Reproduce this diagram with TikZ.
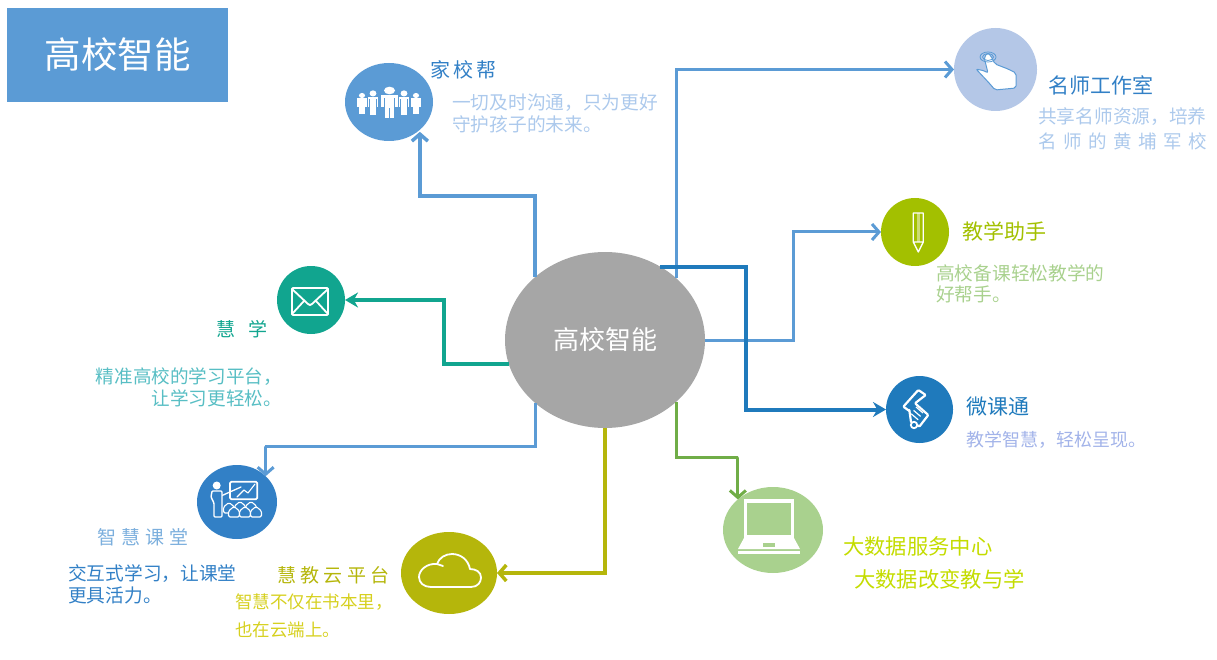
\documentclass[tikz,border=0pt]{standalone}
\usepackage{fontspec}
\setmainfont{Noto Sans CJK SC}
\usetikzlibrary{shapes.geometric, arrows.meta}
\definecolor{titleBlue}{RGB}{91, 155, 213}
\definecolor{hubGrey}{RGB}{166, 166, 166}
\definecolor{handDisc}{RGB}{180, 199, 231}
\definecolor{descBlue}{RGB}{172, 201, 236}
\definecolor{limeDisc}{RGB}{163, 192, 0}
\definecolor{weiBlue}{RGB}{31, 122, 188}
\definecolor{dataDisc}{RGB}{169, 209, 142}
\definecolor{dataEdge}{RGB}{112, 173, 71}
\definecolor{dataText}{RGB}{196, 220, 0}
\definecolor{cloudOlive}{RGB}{181, 182, 11}
\definecolor{cloudText}{RGB}{214, 208, 32}
\definecolor{ketangBlue}{RGB}{50, 128, 198}
\definecolor{huixueTeal}{RGB}{17, 165, 143}
\definecolor{huixueText}{RGB}{88, 190, 196}
\newcommand{\txtfont}[2]{\fontsize{#1}{#1}\selectfont\addfontfeature{LetterSpace=#2}}
\tikzset{
    disc_node/.style n args={3}{
        ellipse,
        fill=#1,
        inner sep=0pt,
        outer sep=0pt,
        minimum width=#2pt,
        minimum height=#3pt
    },
    head_text/.style={
        anchor=west,
        inner sep=0pt,
        align=left,
        text=#1
    },
    desc_text/.style={
        head_text=#1,
        font=\fontsize{18.7}{21.5}\selectfont
    },
    link_edge/.style={
        -{Straight Barb[length=7pt,width=16pt]},
        draw=titleBlue,
        line width=3.5pt
    },
    heavy_edge/.style={
        -{Stealth[length=13pt,width=15pt]},
        line width=4pt
    },
    icon_line/.style={
        draw=white,
        line width=1.8pt,
        line join=round,
        line cap=round
    },
    person_pic/.pic={
        \fill[white] (0,-4.5) ellipse (5.5pt and 3.8pt);
        \fill[white] (-8.5,0) rectangle (8.5,3);
        \fill[white] (-8.5,0) rectangle (-5.7,12);
        \fill[white] (5.7,0) rectangle (8.5,12);
        \fill[white] (-4.9,0) rectangle (4.9,13);
        \fill[white] (-4.9,13) rectangle (-0.7,23);
        \fill[white] (0.7,13) rectangle (4.9,23);
    }
}
\begin{document}
\begin{tikzpicture}[x=1pt, y=-1pt]
    \useasboundingbox (0,0) rectangle (1217,660);

    \node[rectangle, fill=titleBlue, text=white, minimum width=221pt, minimum height=94pt, font=\fontsize{36.5}{40}\selectfont] (title) at (117.5,55) {高校智能};

    \node[disc_node={hubGrey}{200}{176}, text=white, font=\fontsize{26}{30}\selectfont] (hub) at (605,340) {高校智能};
    \node[disc_node={titleBlue}{88}{78}] (jia) at (389,102) {};
    \node[disc_node={handDisc}{83}{83}] (ming) at (995.5,69.5) {};
    \node[disc_node={limeDisc}{68}{68}] (zhushou) at (915,232) {};
    \node[disc_node={weiBlue}{67}{67}] (wei) at (919.5,409.5) {};
    \node[disc_node={dataDisc}{100}{86}] (data) at (773,530) {};
    \node[disc_node={cloudOlive}{96}{82}] (cloud) at (449,573) {};
    \node[disc_node={ketangBlue}{80}{74}] (ketang) at (237,502) {};
    \node[disc_node={huixueTeal}{68}{68}] (huixue) at (311,300) {};

    \coordinate (jiaTurn) at (420,196);
    \coordinate (zhushouTurn) at (793,290);
    \coordinate (weiTurn) at (746,340);
    \coordinate (dataTurn) at (738,457);
    \coordinate (ketangTurn) at (265,446);
    \coordinate (huixueTurn) at (444,330);

    % links from the hub
    \draw[link_edge, shorten >=2pt] (hub.138) |- (jiaTurn) -| (jia.-42);
    \draw[link_edge, line width=3pt] (hub.41) |- (ming.west);
    \draw[link_edge, line width=3pt] (hub.east) -| (zhushouTurn) |- (zhushou.west);
    \draw[heavy_edge, draw=weiBlue] (hub.53) -| (weiTurn) |- (wei.west);
    \draw[link_edge, draw=dataEdge, line width=3pt] (hub.-41) |- (dataTurn) -| (data.139);
    \draw[link_edge, draw=cloudOlive] (hub.south) |- (cloud.east);
    \draw[link_edge, line width=3pt] (hub.-138) |- (ketangTurn) -| (ketang.42);
    \draw[heavy_edge, draw=huixueTeal] (hub.194) -| (huixueTurn) |- (huixue.east);

    % labels
    \node[head_text=ketangBlue, font=\txtfont{20}{17}] (jiaHead) at (430,70) {家校帮};
    \node[desc_text=descBlue] (jiaDesc) at (452,113.5) {一切及时沟通，只为更好\\守护孩子的未来。};
    \node[head_text=ketangBlue, font=\txtfont{21}{0}] (mingHead) at (1048,85) {名师工作室};
    \node[head_text=descBlue, font=\txtfont{18.7}{0}] (mingDescA) at (1038,117) {共享名师资源，培养};
    \node[head_text=descBlue, font=\txtfont{18.5}{35}] (mingDescB) at (1038,141) {名师的黄埔军校};
    \node[head_text=limeDisc, font=\txtfont{21}{0}] (zhushouHead) at (962,231) {教学助手};
    \node[desc_text=dataDisc] (zhushouDesc) at (936,284) {高校备课轻松教学的\\好帮手。};
    \node[head_text=weiBlue, font=\txtfont{21}{0}] (weiHead) at (966,407) {微课通};
    \node[head_text=handDisc!90!blue, font=\txtfont{18}{0}] (weiDesc) at (966,440) {教学智慧，轻松呈现。};
    \node[head_text=dataText, font=\txtfont{21.3}{0}] (dataHead) at (843,546) {大数据服务中心};
    \node[head_text=dataText, font=\txtfont{21.3}{0}] (dataDesc) at (854,579) {大数据改变教与学};
    \node[head_text=cloudOlive, font=\txtfont{19}{23}] (cloudHead) at (277,575) {慧教云平台};
    \node[head_text=cloudText, font=\fontsize{17.5}{28}\selectfont] (cloudDesc) at (235,616) {智慧不仅在书本里，\\也在云端上。};
    \node[head_text=titleBlue!80, font=\txtfont{19}{26}] (ketangHead) at (97,537) {智慧课堂};
    \node[desc_text=ketangBlue] (ketangDesc) at (68,584.5) {交互式学习，让课堂\\更具活力。};
    \node[head_text=huixueTeal, font=\txtfont{19}{68}] (huixueHead) at (216,329) {慧学};
    \node[anchor=east, inner sep=0pt, align=right, text=huixueText, font=\fontsize{18.6}{22}\selectfont] (huixueDesc) at (282,387) {精准高校的学习平台，\\让学习更轻松。};

    % icons
    \foreach \px/\py/\sx/\sy in {362/98.5/0.55/0.67, 416/98.5/0.55/0.67, 373/97/0.62/0.8, 404/97/0.62/0.8, 389.5/95/1/1}
        \pic[xscale=\sx, yscale=\sy] at (\px,\py) {person_pic};

    \draw[titleBlue, fill=white, line width=1pt, rounded corners=2pt] (976,69) -- (985,71) -- (988,73) -- (984,57) -- (988,53) -- (991,56) -- (995,64) -- (1008,69) -- (1016,73) -- (1016,88) -- (995,90) -- (990,84) -- cycle;
    \draw[titleBlue, line width=0.8pt] (988,57) ellipse (8pt and 5pt) (988,57) ellipse (5.5pt and 3.5pt);

    \draw[icon_line, line width=1.3pt] (913.3,213) rectangle (923.3,242) (913.3,242) -- (918.3,252) -- (923.3,242);
    \fill[white, opacity=0.45] (916.5,213) rectangle (920,242);

    \draw[icon_line, line width=2.2pt, rounded corners=1pt] (909.5,411) -- (903.3,406.7) -- (918.3,390) -- (925.7,395) -- (915,403.3) -- (928.3,415) -- (919.3,426.7) -- (917,425);
    \draw[icon_line, line width=2.2pt] (909.3,410) -- (911,422);
    \draw[icon_line, line width=1.8pt] (914,425) circle (3.2pt);
    \foreach \dy in {0,3.4,6.8}
        \draw[icon_line, line width=1.2pt, line cap=butt] (916-2.4*\dy/3.4,407+\dy) -- (923-2.4*\dy/3.4,413+\dy);

    \fill[white] (744,499) rectangle (794,538);
    \fill[dataDisc] (747,503) rectangle (791,535);
    \fill[white] (744,538) -- (794,538) -- (800,549) -- (738,549) -- cycle;
    \fill[white] (738,550.5) rectangle (800,554);
    \fill[dataDisc] (763,543) rectangle (775,547);

    \draw[icon_line] (431,587) -- (471,587) .. controls (478,587) and (481,582) .. (481,577.5) .. controls (481,572) and (476,569) .. (470,569) .. controls (468,559) and (460,554) .. (452,554) .. controls (445,554) and (439,558) .. (437,564) .. controls (427,563) and (419,570) .. (419,577) .. controls (419,583) and (424,587) .. (431,587);
    \draw[icon_line] (437,564) -- (443,566);

    \draw[icon_line, rounded corners=1.5pt] (230,481.7) rectangle (257.3,499.3);
    \draw[icon_line, line width=1.1pt] (237,497) -- (244,490) -- (248,493) -- (255,484);
    \draw[icon_line, line width=1.3pt] (221,496) -- (241,487);
    \fill[white] (216.7,485.5) circle (4pt);
    \draw[icon_line, fill=ketangBlue, line width=1.4pt, rounded corners=1pt] (211,497) -- (212,491) -- (222,491) -- (222,517) -- (214,517) -- (214,503) -- cycle;
    \foreach \hx/\hy in {229/507, 240/506, 251/506, 234/511, 245/511, 256/511}
        \draw[icon_line, fill=ketangBlue, line width=1.1pt, rounded corners=1.5pt] (\hx-5.5,\hy+6) -- (\hx-5.5,\hy) -- (\hx,\hy-4.5) -- (\hx+5.5,\hy) -- (\hx+5.5,\hy+6) -- cycle;

    \draw[icon_line, rounded corners=1pt] (292,288) rectangle (328,315);
    \draw[icon_line] (292,289) -- (308,304) -- (310,305) -- (312,304) -- (328,289) (292,314) -- (304,301) (328,314) -- (316,301);
\end{tikzpicture}
\end{document}
